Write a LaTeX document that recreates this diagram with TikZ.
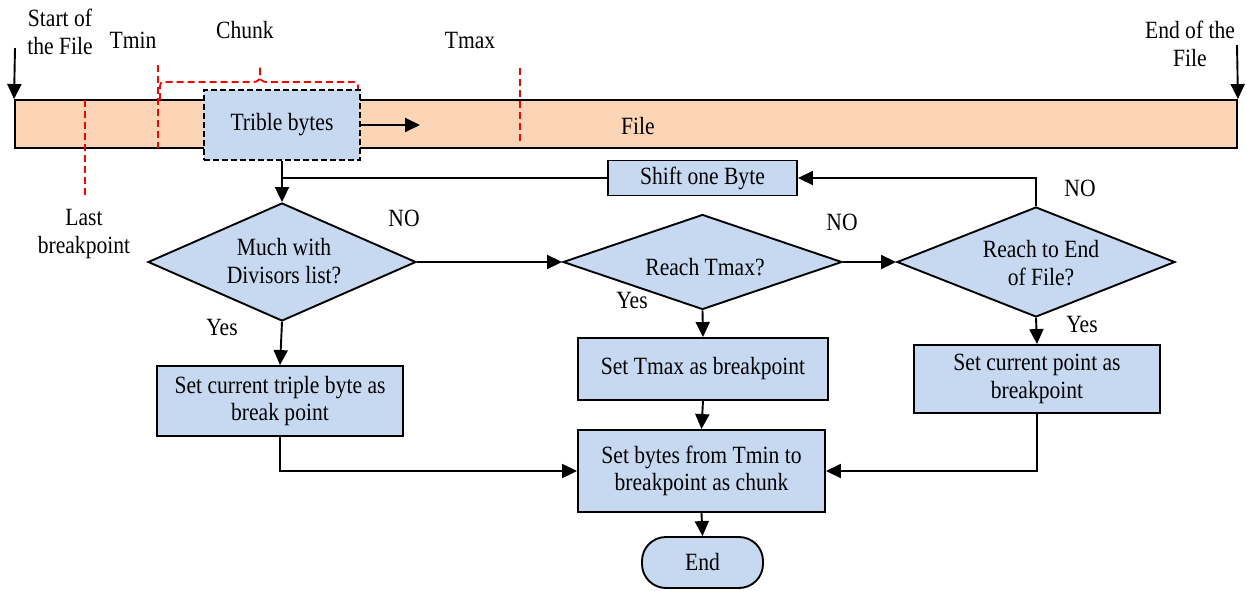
\documentclass[tikz,border=0pt]{standalone}
\usepackage{fontspec}
\setmainfont{Liberation Serif}[FakeStretch=0.87]
\usetikzlibrary{shapes.geometric,arrows.meta}
\definecolor{peach}{HTML}{FBD5B5}
\definecolor{lblue}{HTML}{C6D9F1}
\begin{document}
\begin{tikzpicture}[x=1pt,y=-1pt,
  font=\fontsize{24.8}{27.5}\selectfont,
  box/.style={draw,line width=1.9pt,fill=lblue,align=center,inner sep=0pt},
  dia/.style={diamond,draw,line width=1.9pt,fill=lblue,inner sep=0pt},
  arr/.style={line width=1.9pt,-{Triangle[length=15pt,width=14pt]}},
  ln/.style={line width=1.9pt},
  reddash/.style={red,line width=1.8pt,dash pattern=on 7pt off 4pt},
  lbl/.style={inner sep=0pt,align=center}]
\useasboundingbox (0,0) rectangle (1247,590);

% file bar
\node[draw,line width=1.9pt,fill=peach,minimum width=1222pt,minimum height=48pt,inner sep=0pt] (bar) at (626,124) {};
\node[lbl] (filelbl) at (638,126) {File};

% red dashed markers
\draw[reddash] (85,100) -- (85,195);
\draw[reddash] (158,65) -- (158,148);
\draw[reddash] (520,68) -- (520,143);
\draw[reddash] (160,100) -- (160,90) .. controls (160,82) .. (168,82) -- (250,82)
  .. controls (260,82) .. (260,66) .. controls (260,82) .. (270,82) -- (350,82)
  .. controls (358,82) .. (358,90) -- (358,100);

% trible bytes
\node[box,dash pattern=on 6pt off 3pt,minimum width=156pt,minimum height=70pt] (trib) at (282,125) {Trible bytes};
\coordinate (fa) at (420,125);
\draw[arr] (trib.east) -- (fa);

% start / end arrows
\coordinate (s0) at (15,48);
\coordinate (e0) at (1237,45);
\draw[arr] (s0) -- (bar.north west);
\draw[arr] (e0) -- (bar.north east);

% top labels
\node[lbl] (startlbl) at (60,32) {Start of\\the File};
\node[lbl] (endlbl) at (1190,44) {End of the\\File};
\node[lbl] (tminlbl) at (133,40) {Tmin};
\node[lbl] (chunklbl) at (245,30) {Chunk};
\node[lbl] (tmaxlbl) at (470,40) {Tmax};
\node[lbl] (lastbp) at (84,234) {Last\\breakpoint};

% flowchart
\node[box,minimum width=189pt,minimum height=35pt] (shift) at (702.5,178) {Shift one Byte};
\node[dia,minimum width=268pt,minimum height=118pt] (d1) at (282,262) {};
\node[lbl] (d1t) at (284,261) {Much with\\Divisors list?};
\node[dia,minimum width=279pt,minimum height=95pt] (d2) at (702.5,262) {};
\node[lbl] (d2t) at (705,267) {Reach Tmax?};
\node[dia,minimum width=278pt,minimum height=110pt] (d3) at (1036,262) {};
\node[lbl] (d3t) at (1041,263) {Reach to End\\of File?};

\node[box,minimum width=246pt,minimum height=70pt] (b1) at (280,401) {Set current triple byte as\\break point};
\node[box,minimum width=250pt,minimum height=62pt] (b2) at (703,369) {Set Tmax as breakpoint};
\node[box,minimum width=246pt,minimum height=68pt] (b3) at (1037,379) {Set current point as\\breakpoint};
\node[box,minimum width=247pt,minimum height=82pt] (b4) at (701.5,471) {Set bytes from Tmin to\\breakpoint as chunk};
\node[box,minimum width=121pt,minimum height=51pt,rounded corners=24pt] (endn) at (702.5,562.5) {End};

% labels
\node[lbl] (no1) at (404,218) {NO};
\node[lbl] (no2) at (842,222) {NO};
\node[lbl] (no3) at (1080,188) {NO};
\node[lbl] (yes1) at (222,327) {Yes};
\node[lbl] (yes2) at (632,300) {Yes};
\node[lbl] (yes3) at (1082,324) {Yes};

% connectors
\draw[arr] (trib.south) -- (d1.north);
\draw[ln] (trib.south |- shift.west) -- (shift.west);
\draw[arr] (d3.north) |- (shift.east);
\draw[arr] (d1.east) -- (d2.west);
\draw[arr] (d2.east) -- (d3.west);
\draw[arr] (d1.south) -- (b1.north);
\draw[arr] (d2.south) -- (b2.north);
\draw[arr] (d3.south) -- (b3.north);
\draw[arr] (b2.south) -- (b4.north);
\draw[arr] (b4.south) -- (endn.north);
\draw[arr] (b1.south) |- (b4.west);
\draw[arr] (b3.south) |- (b4.east);
\end{tikzpicture}
\end{document}
